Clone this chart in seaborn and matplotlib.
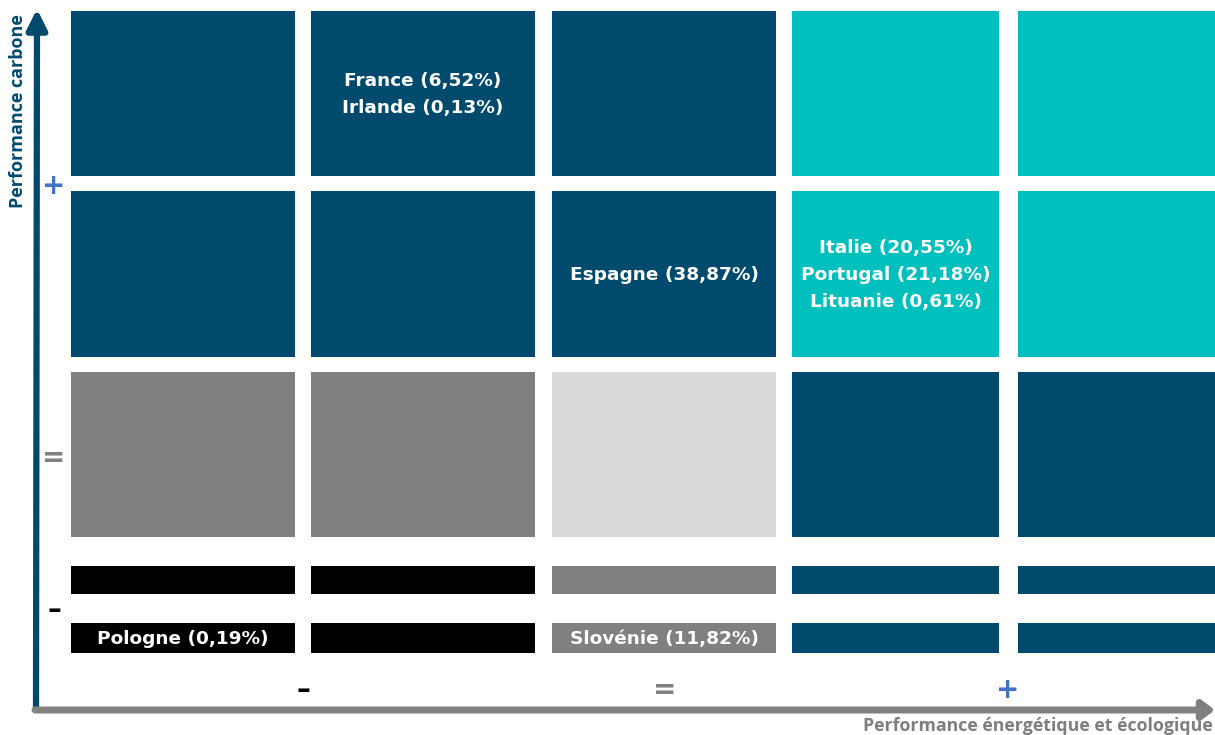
import matplotlib
matplotlib.use("Agg")
import matplotlib.pyplot as plt
import seaborn as sns

# ---------------- data ----------------
NAVY = "#004A6E"
TEAL = "#00C0BE"
GREY = "#808080"
LIGHT = "#D9D9D9"
BLACK = "#000000"

# colour of each cell, rows from top (+ carbone) to bottom (- carbone),
# columns from left (- énergétique) to right (+ énergétique)
cell_colors = [
    [NAVY, NAVY, NAVY, TEAL, TEAL],
    [NAVY, NAVY, NAVY, TEAL, TEAL],
    [GREY, GREY, LIGHT, NAVY, NAVY],
    [BLACK, BLACK, GREY, NAVY, NAVY],
    [BLACK, BLACK, GREY, NAVY, NAVY],
]

# country labels: (row, col, text)
cell_labels = [
    (0, 1, "France (6,52%)\nIrlande (0,13%)"),
    (1, 2, "Espagne (38,87%)"),
    (1, 3, "Italie (20,55%)\nPortugal (21,18%)\nLituanie (0,61%)"),
    (4, 0, "Pologne (0,19%)"),
    (4, 2, "Slovénie (11,82%)"),
]

y_levels = ["+", "=", "-"]
x_levels = ["-", "=", "+"]
level_colors = {"+": "#4472C4", "=": "#808080", "-": "#000000"}

x_title = "Performance énergétique et écologique"
y_title = "Performance carbone"

# ---------------- layout (pixels) ----------------
col_edges = [(71, 295), (311, 535), (552, 776), (792, 999), (1018, 1242)]
row_edges = [(11, 176), (191, 357), (372, 537), (566, 594), (623, 653)]
y_level_pos = [186, 458, 610]
x_level_pos = [303, 665, 1008]

sns.set_theme(style="white")
plt.rcParams["font.family"] = ["DejaVu Sans"]

fig = plt.figure(figsize=(12.15, 7.35), dpi=100)
ax = fig.add_axes([0, 0, 1, 1])
ax.set_xlim(0, 1215)
ax.set_ylim(735, 0)
ax.axis("off")

for r, row in enumerate(cell_colors):
    top, bot = row_edges[r]
    for c, color in enumerate(row):
        left, right = col_edges[c]
        ax.bar(left, bot - top, width=right - left, bottom=top,
               align="edge", color=color, linewidth=0)

for r, c, txt in cell_labels:
    cx = sum(col_edges[c]) / 2
    cy = sum(row_edges[r]) / 2
    ax.text(cx, cy + 1, txt, ha="center", va="center", color="white",
            fontsize=13.3, fontweight="bold", linespacing=1.65,
            family=["DejaVu Sans"])

# axes arrows
ax.annotate("", xy=(37, 9), xytext=(36, 709),
            arrowprops=dict(arrowstyle="-|>,head_width=0.5,head_length=1.0",
                            color=NAVY, lw=4.5, shrinkA=0, shrinkB=0))
ax.annotate("", xy=(1215, 710), xytext=(35, 710),
            arrowprops=dict(arrowstyle="-|>,head_width=0.45,head_length=0.6",
                            color=GREY, lw=5, shrinkA=0, shrinkB=0))

for lvl, y in zip(y_levels, y_level_pos):
    ax.text(54, y, lvl if lvl != "-" else "–", ha="center", va="center",
            fontsize=20, fontweight="bold", color=level_colors[lvl])
for lvl, x in zip(x_levels, x_level_pos):
    ax.text(x, 690, lvl if lvl != "-" else "–", ha="center", va="center",
            fontsize=20, fontweight="bold", color=level_colors[lvl])

ax.text(18, 111, y_title, rotation=90, ha="center", va="center",
        fontsize=13, fontweight="bold", color=NAVY,
        family=["Open Sans", "DejaVu Sans"])
ax.text(1213, 726, x_title, ha="right", va="center",
        fontsize=12.8, fontweight="bold", color="#7F7F7F",
        family=["Open Sans", "DejaVu Sans"])

fig.savefig("out.png", dpi=100)
